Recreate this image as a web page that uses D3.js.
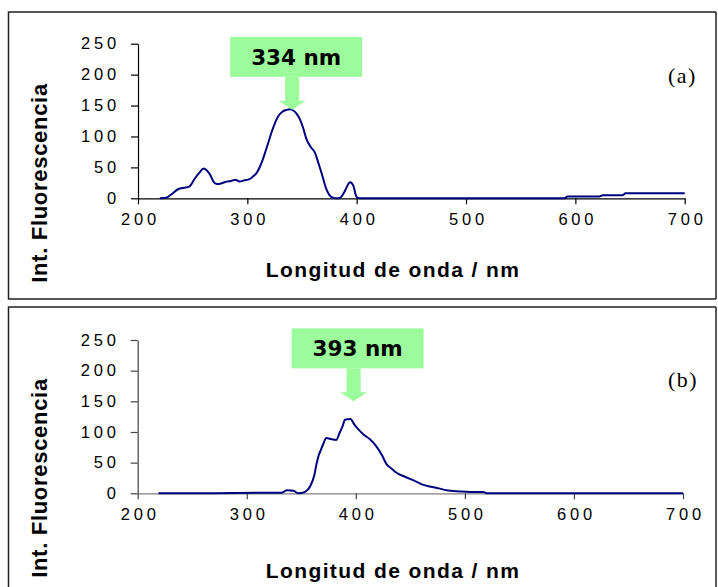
<!DOCTYPE html>
<html>
<head>
<meta charset="utf-8">
<script src="https://cdn.jsdelivr.net/npm/d3@7"></script>
<style>
    body { margin: 0; background: #fff; }
    svg { display: block; }
</style>
</head>
<body>
<svg id="chart" width="718" height="587"></svg>
<script>
// spectrum (a): emission, peak marked at 334 nm
var wavelengthA = [220, 226, 231, 237, 242, 247, 252, 256, 260, 263, 266, 269, 272, 276, 281, 285,
                   289, 293, 297, 302, 305, 308, 311, 314, 317, 319, 322, 324, 328, 332, 336,
                   339, 342, 345, 348, 351, 354, 358, 362, 365, 368, 372, 377, 381, 385, 389,
                   392, 394, 397, 400, 403,
                   590, 593, 622, 625, 643, 646, 700];
var intensityA = [0, 1, 7, 15, 17, 19, 32, 41, 48, 45, 38, 27, 23, 24, 27, 28,
                  30, 27, 29, 31, 35, 40, 49, 62, 78, 89, 106, 116, 132, 140, 143,
                  144, 142, 137, 128, 114, 96, 83, 73, 57, 40, 16, 2, 0, 1, 11,
                  22, 26, 20, 2, 0,
                  0, 3, 3, 5, 5, 8, 8];

// spectrum (b): emission, peak marked at 393 nm
var wavelengthB = [219, 332, 337, 343, 347, 353, 358, 362, 364, 366, 368, 370, 373, 378, 382, 385,
                   388, 390, 395, 399, 403, 407, 413, 419, 424, 428, 433, 437, 445, 453, 460, 468,
                   476, 483, 495, 505, 517, 520, 700];
var intensityB = [0, 1, 5, 4, 0, 2, 11, 30, 48, 62, 71, 80, 90, 88, 87, 98,
                  110, 120, 121, 111, 103, 96, 88, 76, 62, 48, 40, 34, 27, 21, 15, 11,
                  8, 5, 3, 2, 2, 0, 0];

var xTicks = [200, 300, 400, 500, 600, 700];
var yTicks = [0, 50, 100, 150, 200, 250];
var peakLabels = ['334 nm', '393 nm'];
var arrowAt = [341, 398];      // nm where the arrow points
var arrowTip = [143, 150];     // intensity level of the arrow tip
var panelLabels = ['(a)', '(b)'];
var yTitle = 'Int. Fluorescencia';
var xTitle = 'Longitud de onda / nm';

var svg = d3.select('#chart');

// layout of the two stacked panels
var panels = [
    {top: 12, bottom: 299, x0: 138, x1: 684.7, y0: 198.3, y1: 43.7, axisColor: '#000',
     xTitleY: 277.3, labelY: 83, wl: wavelengthA, val: intensityA},
    {top: 307, bottom: 600, x0: 137.7, x1: 683, y0: 493.3, y1: 340, axisColor: '#808080',
     xTitleY: 578.3, labelY: 387.3, wl: wavelengthB, val: intensityB}
];

function drawPanel(p, i) {
    var g = svg.append('g').attr('class', 'panel');

    // frame
    g.append('path')
        .attr('d', 'M716,' + p.top + 'H8.5V' + p.bottom + 'H716')
        .attr('fill', 'none')
        .attr('stroke', '#222')
        .attr('stroke-width', 1.5);
    g.append('line')
        .attr('x1', 716).attr('x2', 716)
        .attr('y1', p.top).attr('y2', p.bottom)
        .attr('stroke', '#222').attr('stroke-width', 1.5);

    var x = d3.scaleLinear().domain([200, 700]).range([p.x0, p.x1]);
    var y = d3.scaleLinear().domain([0, 250]).range([p.y0, p.y1]);

    var xAxis = g.append('g')
        .attr('transform', 'translate(0,' + p.y0 + ')')
        .call(d3.axisBottom(x).tickValues(xTicks).tickSize(6).tickSizeOuter(0).tickPadding(9));
    var yAxis = g.append('g')
        .attr('transform', 'translate(' + p.x0 + ',0)')
        .call(d3.axisLeft(y).tickValues(yTicks).tickSize(7).tickSizeOuter(0).tickPadding(11));

    [xAxis, yAxis].forEach(function (a) {
        a.selectAll('path, line')
            .attr('stroke', i === 0 ? '#000' : '#444')
            .attr('stroke-width', 1.2);
        a.selectAll('text')
            .attr('fill', '#000')
            .style('font-family', '"Liberation Sans", Arial, sans-serif')
            .style('font-size', '16.5px')
            .style('letter-spacing', '3.8px');
    });
    xAxis.select('.domain').attr('stroke', p.axisColor);
    xAxis.selectAll('text').attr('dx', '2px');

    // spectrum
    var line = d3.line()
        .curve(d3.curveMonotoneX)
        .x(function (d) { return x(d[0]); })
        .y(function (d) { return y(d[1]); });
    g.append('path')
        .datum(d3.zip(p.wl, p.val))
        .attr('d', line)
        .attr('fill', 'none')
        .attr('stroke', '#00007f')
        .attr('stroke-width', 2)
        .attr('stroke-linejoin', 'round');

    // titles
    g.append('text')
        .attr('transform', 'translate(47,' + (p.top + 171) + ') rotate(-90)')
        .attr('text-anchor', 'middle')
        .style('font-family', '"Liberation Sans", Arial, sans-serif')
        .style('font-weight', 'bold')
        .style('font-size', '22px')
        .style('letter-spacing', '0.7px')
        .text(yTitle);
    g.append('text')
        .attr('x', 393)
        .attr('y', p.xTitleY)
        .attr('text-anchor', 'middle')
        .style('font-family', '"Liberation Sans", Arial, sans-serif')
        .style('font-weight', 'bold')
        .style('font-size', '21px')
        .style('letter-spacing', '1.4px')
        .text(xTitle);

    g.append('text')
        .attr('x', 668)
        .attr('y', p.labelY)
        .style('font-family', '"Liberation Serif", "Times New Roman", serif')
        .style('font-size', '22px')
        .style('letter-spacing', '1.5px')
        .text(panelLabels[i]);

    // peak annotation: green box with arrow
    var tx = x(arrowAt[i]), ty = y(arrowTip[i]);
    var green = '#9cfc9c';
    g.append('rect')
        .attr('x', tx - 62)
        .attr('y', ty - 73)
        .attr('width', 132)
        .attr('height', 40)
        .attr('fill', green);
    g.append('path')
        .attr('d', 'M' + (tx - 7) + ',' + (ty - 33) + 'H' + (tx + 7) + 'V' + (ty - 9) +
                   'H' + (tx + 13.5) + 'L' + tx + ',' + ty + 'L' + (tx - 13.5) + ',' + (ty - 9) +
                   'H' + (tx - 7) + 'Z')
        .attr('fill', green);
    g.append('text')
        .attr('x', tx + 4)
        .attr('y', ty - 45)
        .attr('text-anchor', 'middle')
        .style('font-family', '"DejaVu Sans", Verdana, sans-serif')
        .style('font-weight', 'bold')
        .style('font-size', '21.5px')
        .text(peakLabels[i]);
}

panels.forEach(drawPanel);
</script>
</body>
</html>
